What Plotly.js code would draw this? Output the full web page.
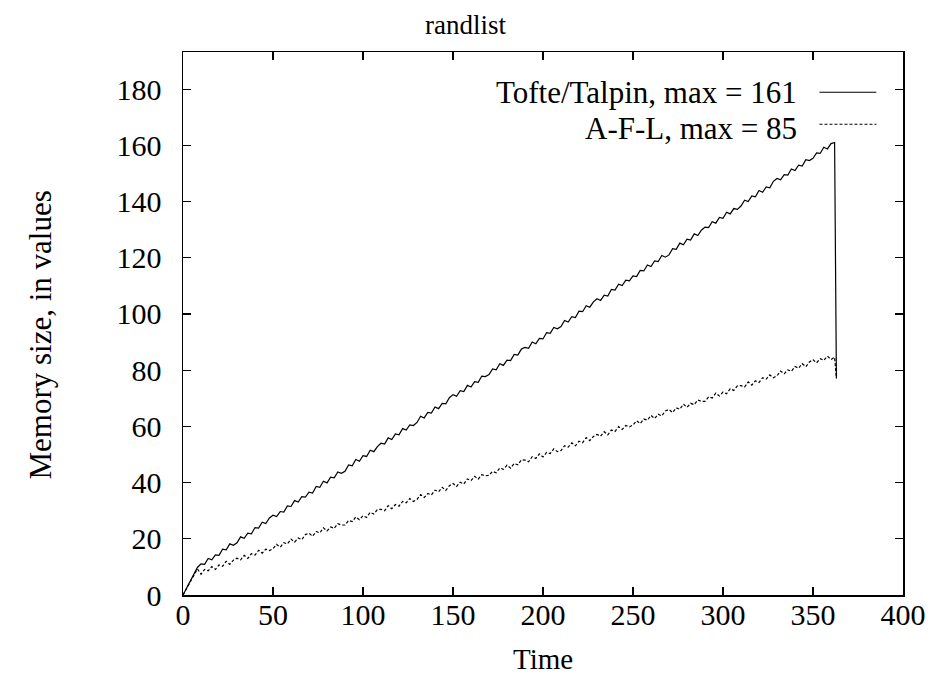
<!DOCTYPE html>
<html>
<head>
<meta charset="utf-8">
<script src="https://cdn.plot.ly/plotly-3.0.1.min.js"></script>
<style>html,body{margin:0;padding:0;background:#fff;}#chart{width:931px;height:677px;}</style>
</head>
<body>
<div id="chart"></div>
<script>
const chartTitle = "randlist";
const xLabel = "Time";
const yLabel = "Memory size, in values";
const seriesNames = ["Tofte/Talpin, max = 161", "A-F-L, max = 85"];

const time = [0,2,4,6,8,
10,12,14,16,18,20,22,24,26,28,
30,32,34,36,38,40,42,44,46,48,
50,52,54,56,58,60,62,64,66,68,
70,72,74,76,78,80,82,84,86,88,
90,92,94,96,98,100,102,104,106,108,
110,112,114,116,118,120,122,124,126,128,
130,132,134,136,138,140,142,144,146,148,
150,152,154,156,158,160,162,164,166,168,
170,172,174,176,178,180,182,184,186,188,
190,192,194,196,198,200,202,204,206,208,
210,212,214,216,218,220,222,224,226,228,
230,232,234,236,238,240,242,244,246,248,
250,252,254,256,258,260,262,264,266,268,
270,272,274,276,278,280,282,284,286,288,
290,292,294,296,298,300,302,304,306,308,
310,312,314,316,318,320,322,324,326,328,
330,332,334,336,338,340,342,344,346,348,
350,352,354,356,358,360,362,363];

const tofteTalpin = [0,2.5,5.0,7.5,9.8,
11.1,10.9,13.0,12.5,14.3,14.1,16.3,16.1,18.2,17.7,
18.6,20.7,20.2,22.0,21.8,24.0,23.8,25.9,25.4,27.4,
28.4,27.9,29.7,29.5,31.7,31.5,33.6,33.1,35.0,34.8,
36.6,36.3,38.6,38.3,40.5,39.9,41.9,41.7,43.8,43.3,
44.0,46.3,46.0,48.2,47.6,49.6,49.3,51.5,51.0,52.8,
54.0,53.7,55.9,55.3,57.3,57.0,59.2,58.7,60.5,60.3,
61.4,63.6,63.0,65.0,64.7,66.9,66.3,68.2,68.0,70.2,
71.3,70.7,72.7,72.4,74.6,74.0,75.9,75.7,77.9,77.7,
78.4,80.4,80.1,82.3,81.7,83.6,83.4,85.6,85.4,87.5,
88.1,87.8,90.0,89.4,91.3,91.1,93.3,93.1,95.2,94.7,
95.5,97.7,97.1,99.0,98.7,101.0,100.8,102.9,102.4,104.3,
105.4,104.8,106.7,106.4,108.7,108.5,110.6,110.1,112.0,111.8,
113.5,113.3,115.5,115.3,117.4,116.9,118.9,118.6,120.8,120.2,
121.0,123.2,123.0,125.2,124.6,126.6,126.3,128.5,127.9,129.8,
130.9,130.7,132.8,132.3,134.3,134.0,136.2,135.6,137.5,137.2,
138.4,140.5,140.0,142.0,141.7,143.9,143.3,145.2,144.9,147.2,
148.2,147.7,149.6,149.4,151.6,151.0,152.9,152.6,154.9,154.6,
155.4,157.3,157.1,159.3,158.7,160.6,161.0,77.0];

const afl = [0,2.4,4.8,7.0,9.3,
7.4,9.1,8.6,10.1,9.1,10.7,10.2,12.0,10.9,12.4,
13.1,12.5,14.1,13.0,14.7,14.2,15.9,14.9,16.3,15.8,
16.5,18.0,17.0,18.6,18.2,19.9,18.8,20.3,19.7,21.5,
22.0,20.9,22.6,22.1,23.9,22.8,24.2,23.7,25.4,24.9,
24.9,26.5,26.1,27.8,26.8,28.2,27.6,29.4,28.8,30.4,
30.5,30.0,31.8,30.7,32.2,31.6,33.3,32.8,34.3,33.3,
34.0,35.7,34.7,36.1,35.6,37.3,36.7,38.3,37.2,38.9,
39.7,38.6,40.1,39.5,41.3,40.7,42.2,41.2,42.8,42.4,
42.6,44.0,43.5,45.2,44.7,46.2,45.1,46.8,46.3,48.1,
48.0,47.4,49.2,48.6,50.2,49.1,50.7,50.3,52.0,51.0,
51.4,53.1,52.6,54.1,53.1,54.7,54.2,56.0,54.9,56.4,
57.1,56.5,58.1,57.0,58.7,58.2,59.9,58.9,60.3,59.8,
60.5,62.0,61.0,62.6,62.2,63.9,62.8,64.3,63.7,65.5,
66.0,64.9,66.6,66.1,67.9,66.8,68.2,67.7,69.4,68.9,
68.9,70.5,70.1,71.8,70.8,72.2,71.6,73.4,72.8,74.4,
74.5,74.0,75.8,74.7,76.2,75.6,77.3,76.8,78.3,77.3,
78.0,79.7,78.7,80.1,79.6,81.3,80.7,82.3,81.2,82.9,
83.7,82.6,84.1,83.5,85.0,83.8,84.6,77.2];

const xTicks = [0,50,100,150,200,250,300,350,400];
const yTicks = [0,20,40,60,80,100,120,140,160,180];

const font = "Liberation Serif";

const traces = [
  {x: time, y: tofteTalpin, name: seriesNames[0], type: 'scatter', mode: 'lines',
   line: {color: '#000', width: 1.2}},
  {x: time, y: afl, name: seriesNames[1], type: 'scatter', mode: 'lines',
   line: {color: '#000', width: 1.2, dash: '3px,2px'}}
];

const axisCommon = {
  showgrid: false, zeroline: false, showline: true, linecolor: '#000', linewidth: 1.5,
  mirror: 'ticks', ticks: 'inside', ticklen: 8, tickwidth: 1.2, tickcolor: '#000',
  tickfont: {family: font, size: 30, color: '#000'}
};

const layout = {
  width: 931, height: 677,
  margin: {l: 183, r: 28, t: 52, b: 82},
  paper_bgcolor: '#fff', plot_bgcolor: '#fff',
  showlegend: false,
  title: {text: chartTitle, font: {family: font, size: 27, color: '#000'},
          x: 0.5, xanchor: 'center', y: 0.963, yanchor: 'middle', xref: 'container', yref: 'container'},
  xaxis: Object.assign({}, axisCommon, {
    range: [0, 400], tickvals: xTicks, ticktext: xTicks.map(String), ticklabelstandoff: -8
  }),
  yaxis: Object.assign({}, axisCommon, {
    range: [0, 193.2], tickvals: yTicks, ticktext: yTicks.map(String), ticklabelstandoff: 14
  }),
  annotations: [
    {xref: 'paper', yref: 'paper', x: 0.5, y: -0.118, xanchor: 'center', yanchor: 'middle', borderpad: 0,
     text: xLabel, showarrow: false, font: {family: font, size: 29, color: '#000'}},
    {xref: 'paper', yref: 'paper', x: -0.1985, y: 0.478, xanchor: 'center', yanchor: 'middle', textangle: -90,
     text: yLabel, showarrow: false, font: {family: font, size: 31, color: '#000'}},
    {xref: 'paper', yref: 'paper', x: 0.856, y: 0.926, xanchor: 'right', yanchor: 'middle',
     text: seriesNames[0], showarrow: false, font: {family: font, size: 31, color: '#000'}},
    {xref: 'paper', yref: 'paper', x: 0.856, y: 0.860, xanchor: 'right', yanchor: 'middle',
     text: seriesNames[1], showarrow: false, font: {family: font, size: 31, color: '#000'}}
  ],
  shapes: [
    {type: 'line', xref: 'paper', yref: 'paper', x0: 0.884, x1: 0.963, y0: 0.926, y1: 0.926,
     line: {color: '#000', width: 1.1}},
    {type: 'line', xref: 'paper', yref: 'paper', x0: 0.884, x1: 0.963, y0: 0.867, y1: 0.867,
     line: {color: '#000', width: 1.1, dash: '3px,2px'}}
  ]
};

Plotly.newPlot('chart', traces, layout, {displayModeBar: false, staticPlot: true});
</script>
</body>
</html>
